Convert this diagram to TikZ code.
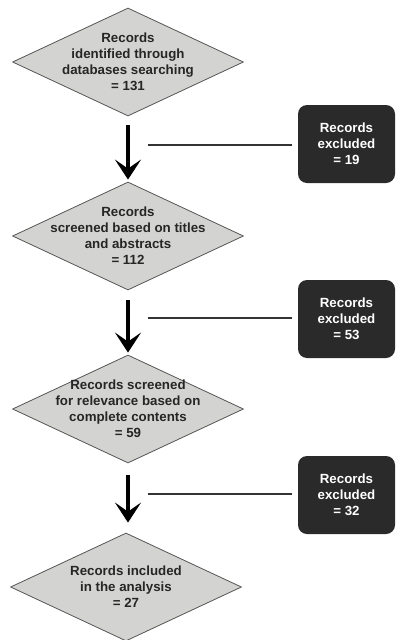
\documentclass[tikz,border=0pt]{standalone}
\usepackage{fontspec}
\setmainfont{Liberation Sans}
\usetikzlibrary{shapes.geometric,arrows.meta}
\definecolor{stepgray}{HTML}{D3D3D1}
\definecolor{edgegray}{HTML}{555555}
\definecolor{boxdark}{HTML}{2A2A2A}

\tikzset{
  stage/.style={diamond, aspect=2.14, draw=edgegray, line width=0.8pt, fill=stepgray,
    minimum width=231pt, minimum height=108pt, inner sep=-20pt,
    align=center, text=black!85,
    font=\fontsize{13.3}{16}\selectfont\bfseries},
  dropped/.style={rectangle, rounded corners=9pt, fill=boxdark, text=white,
    minimum width=97pt, minimum height=78pt, align=center,
    font=\fontsize{13.3}{16}\selectfont\bfseries},
  flow/.style={line width=4pt, -{Stealth[length=20pt,width=26pt,inset=9pt]}},
  side/.style={line width=2pt, draw=black!80}
}

\begin{document}
\begin{tikzpicture}[x=1pt,y=-1pt]
  \useasboundingbox (0,0) rectangle (396,640);
  % main screening stages
  \node[stage] (ident) at (128,62) {Records\\identified through\\databases searching\\= 131};
  \node[stage] (titles) at (128,236) {Records\\screened based on titles\\and abstracts\\= 112};
  \node[stage] (content) at (128,409) {Records screened\\for relevance based on\\complete contents\\= 59};
  \node[stage] (final) at (126,587) {Records included\\in the analysis\\= 27};
  % excluded records
  \node[dropped] (ex1) at (346.5,144) {Records\\excluded\\= 19};
  \node[dropped] (ex2) at (346.5,319) {Records\\excluded\\= 53};
  \node[dropped] (ex3) at (346.5,495) {Records\\excluded\\= 32};
  % arrows between stages
  \draw[flow] ([yshift=-9pt]ident.south) -- ([yshift=2pt]titles.north);
  \draw[flow] ([yshift=-10pt]titles.south) -- ([yshift=2pt]content.north);
  \draw[flow] ([yshift=-12pt]content.south) -- ([yshift=10pt]content.south |- final.north);
  % side lines to the excluded boxes
  \coordinate (s1) at (148,145);
  \coordinate (s2) at (148,318);
  \coordinate (s3) at (148,494);
  \draw[side] (s1) -- ([xshift=-6pt]ex1.west |- s1);
  \draw[side] (s2) -- ([xshift=-6pt]ex2.west |- s2);
  \draw[side] (s3) -- ([xshift=-6pt]ex3.west |- s3);
\end{tikzpicture}
\end{document}
